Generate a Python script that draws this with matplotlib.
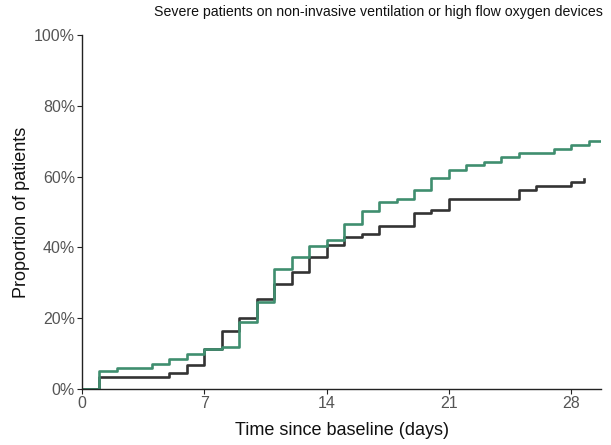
import matplotlib
matplotlib.use("Agg")
from matplotlib import pyplot as plt
from matplotlib.ticker import PercentFormatter

plt.rcParams['font.family'] = ['Liberation Sans', 'DejaVu Sans']

# 两组累计比例（阶梯曲线，单位 %）
days_black = [0, 1, 5, 6, 7, 8, 9, 10, 11, 12, 13, 14, 15, 16, 17, 19, 20, 21, 25, 26, 28, 28.7]
prop_black = [0, 3.4, 4.4, 6.8, 11.2, 16.5, 20.0, 25.3, 29.7, 33.0, 37.4, 40.8, 42.8, 43.8, 46.1,
              49.6, 50.7, 53.7, 56.1, 57.3, 58.6, 59.3]

days_green = [0, 1, 2, 4, 5, 6, 7, 8, 9, 10, 11, 12, 13, 14, 15, 16, 17, 18, 19, 20, 21, 22, 23,
              24, 25, 27, 28, 29, 29.7]
prop_green = [0, 5.1, 6.0, 7.2, 8.4, 9.8, 11.2, 11.9, 18.8, 24.7, 33.9, 37.2, 40.5, 42.0, 46.6,
              50.2, 52.7, 53.8, 56.2, 59.5, 61.9, 63.3, 64.1, 65.4, 66.6, 67.7, 68.9, 70.1, 70.1]

x_ticks = [0, 7, 14, 21, 28]
y_ticks = [0, 20, 40, 60, 80, 100]

fig = plt.figure(figsize=(6.11, 4.45), dpi=100)
ax = fig.add_axes([82 / 611, 1 - 389 / 445, 519 / 611, 354 / 445])

ax.step(days_black, prop_black, where='post', color='#333333', lw=1.9)
ax.step(days_green, prop_green, where='post', color='#3f8e6f', lw=1.9)

ax.set_xlim(0, 29.7)
ax.set_ylim(0, 100)
ax.set_xticks(x_ticks)
ax.set_yticks(y_ticks)
ax.yaxis.set_major_formatter(PercentFormatter(decimals=0))

for s in ['top', 'right']:
    ax.spines[s].set_visible(False)
for s in ['left', 'bottom']:
    ax.spines[s].set_color('#222222')
    ax.spines[s].set_linewidth(1.0)
ax.tick_params(length=3.5, width=0.8, color='#222222', labelcolor='#555555',
               labelsize=11.5, pad=1.5)

ax.set_xlabel("Time since baseline (days)", fontsize=13, color='#111111')
ax.xaxis.set_label_coords(0.5, -0.092)
ax.set_ylabel("Proportion of patients", fontsize=13, color='#111111')
ax.yaxis.set_label_coords(-0.10, 0.5)

fig.text(378.5 / 611, 1 - 12 / 445, "Severe patients on non-invasive ventilation or high flow oxygen devices",
         ha='center', va='center', fontsize=10.2, color='#111111')

fig.savefig("out.png", dpi=100)
